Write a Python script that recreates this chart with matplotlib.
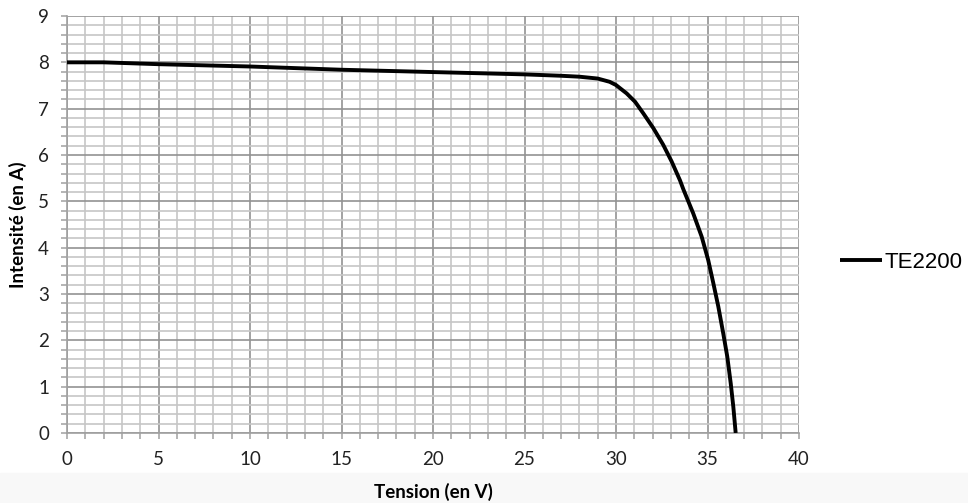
import numpy as np
import matplotlib
matplotlib.use("Agg")
import matplotlib.pyplot as plt
from matplotlib.ticker import MultipleLocator

# courbe I-V
tension = [0, 2, 5, 10, 15, 20, 25, 27, 28, 29, 29.65, 30, 30.58, 31.04,
           31.49, 32.04, 32.58, 33.04, 33.5, 33.68, 34.22, 34.68, 35.04,
           35.32, 35.59, 35.86, 36.08, 36.27, 36.41, 36.54]
intensite = [8.0, 8.0, 7.96, 7.91, 7.84, 7.79, 7.74, 7.71, 7.69, 7.65, 7.58,
             7.51, 7.33, 7.15, 6.90, 6.58, 6.22, 5.86, 5.45, 5.26, 4.74, 4.24,
             3.73, 3.23, 2.73, 2.15, 1.65, 1.07, 0.57, 0.0]
serie = "TE2200"

fig = plt.figure(figsize=(9.68, 5.03), dpi=100)
fig.patches.append(plt.Rectangle((0, 0), 1, 30/503, transform=fig.transFigure,
                                 color="#f8f8f8", zorder=-5))
ax = fig.add_axes([67/968, 1-433/503, 732/968, 417/503])
ax.patch.set_alpha(0)

ax.plot(tension, intensite, color="black", lw=2.8, label=serie,
        solid_joinstyle="round", solid_capstyle="butt", zorder=3)

ax.set_xlim(0, 40)
ax.set_ylim(0, 9)
ax.xaxis.set_major_locator(MultipleLocator(5))
ax.xaxis.set_minor_locator(MultipleLocator(1))
ax.yaxis.set_major_locator(MultipleLocator(1))
ax.yaxis.set_minor_locator(MultipleLocator(0.2))

ax.grid(which="major", color="#929292", lw=1.2)
ax.grid(which="minor", color="#c6c6c6", lw=1.2)
ax.set_axisbelow(True)

for s in ax.spines.values():
    s.set_color("#a0a0a0")
    s.set_linewidth(1.2)
ax.spines["top"].set_visible(False)
ax.spines["right"].set_visible(False)

ax.tick_params(which="both", direction="out", length=4, width=1.1, color="#a0a0a0")
ax.tick_params(axis="both", which="major", labelsize=13.5)
ax.tick_params(axis="x", which="major", pad=9)
ax.tick_params(axis="y", which="major", pad=9)
for lab in ax.get_xticklabels() + ax.get_yticklabels():
    lab.set_family("Lato")
    lab.set_color("#222222")

ax.set_xlabel("Tension (en V)", family="Lato", fontweight="bold", fontsize=13.5, labelpad=11)
ax.set_ylabel("Intensité (en A)", family="Lato", fontweight="bold", fontsize=13.5, labelpad=8)

leg = ax.legend(loc="center left", bbox_to_anchor=(1.056, 0.409), frameon=False,
                prop={"family": "Liberation Sans", "size": 16},
                handlelength=1.9, handletextpad=0.12, borderaxespad=0, borderpad=0)

fig.savefig("out.png", dpi=100)
